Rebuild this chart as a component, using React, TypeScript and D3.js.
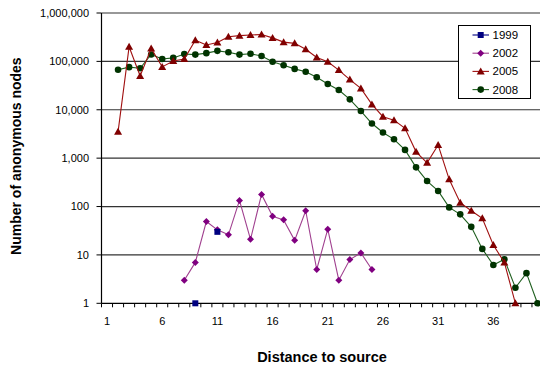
import React from 'react';
import * as d3 from 'd3';

const categories = d3.range(1, 41);
const xLabels = [1, 6, 11, 16, 21, 26, 31, 36];
const yTicks = [1, 10, 100, 1000, 10000, 100000, 1000000];

const s1999 = [null, null, null, null, null, null, null, null, 1, null, 30];
const s2002 = [null, null, null, null, null, null, null, 3, 7, 49, 33, 26, 134, 21, 178, 63, 53, 20, 82, 5, 34, 3, 8, 11, 5];
const s2005 = [null, 3500, 200000, 50000, 185000, 77000, 102000, 112000, 275000, 218000,
  246000, 323000, 340000, 350000, 360000, 306000, 250000, 236000, 178000, 120000,
  98000, 66000, 42000, 27600, 12900, 7200, 6100, 4130, 1350, 800,
  1870, 365, 120, 82, 57, 16, 7, 1];
const s2008 = [null, 67000, 76000, 72000, 139000, 112000, 118000, 142000, 138000, 148000,
  165000, 154000, 138000, 144000, 129000, 98000, 83000, 70000, 61000, 47000,
  34000, 25600, 16400, 9400, 5200, 3400, 2450, 1480, 645, 336,
  210, 96, 69, 38, 13.3, 6.2, 8.1, 2.1, 4.2, 1];

const series = [
  { name: '1999', values: s1999, line: '#000080', fill: '#000080', marker: 'square' },
  { name: '2002', values: s2002, line: '#A0408F', fill: '#800080', marker: 'diamond' },
  { name: '2005', values: s2005, line: '#A01010', fill: '#800000', marker: 'triangle' },
  { name: '2008', values: s2008, line: '#1F5F1F', fill: '#003300', marker: 'circle' },
];

const font = 'Liberation Sans, Arial, sans-serif';

function Marker({ type, x, y, color }) {
  if (type === 'square') return <rect x={x - 3} y={y - 3} width={6} height={6} fill={color} />;
  if (type === 'triangle') return <path d={`M${x},${y - 4}L${x + 4},${y + 3}L${x - 4},${y + 3}Z`} fill={color} />;
  if (type === 'diamond') return <path d={`M${x},${y - 3.5}L${x + 3.5},${y}L${x},${y + 3.5}L${x - 3.5},${y}Z`} fill={color} />;
  return <circle cx={x} cy={y} r={3.3} fill={color} />;
}

export default function App() {
  const width = 540;
  const height = 365;
  const left = 101.5;
  const right = 543;
  const top = 13;
  const bottom = 303.3;

  const x = d3.scaleLinear().domain([0.5, 40.5]).range([left, right]);
  const y = d3.scaleLog().domain([1, 1e6]).range([bottom, top]);
  const fmt = d3.format(',');

  const line = d3.line<any>()
    .defined((d) => d != null)
    .x((_, i) => x(categories[i]))
    .y((d) => y(d));

  const boundaries = d3.range(0.5, 41, 1);

  return (
    <svg width={width} height={height} style={{ position: 'absolute', left: 0, top: 0, background: '#fff' }}>
      <rect width={width} height={height} fill="#fff" />
      {/* gridlines */}
      {yTicks.slice(1).map((t) => (
        <line key={t} x1={left} x2={right} y1={y(t)} y2={y(t)} stroke="#333" strokeWidth={1.2} />
      ))}
      {/* y axis */}
      <line x1={left} x2={left} y1={top} y2={bottom} stroke="#000" strokeWidth={1.2} />
      {yTicks.map((t) => (
        <g key={t}>
          <line x1={left - 5} x2={left} y1={y(t)} y2={y(t)} stroke="#000" />
          <text x={89} y={y(t)} dy="0.35em" textAnchor="end" fontFamily={font} fontSize={11}>{fmt(t)}</text>
        </g>
      ))}
      {/* x axis */}
      <line x1={left} x2={right} y1={bottom} y2={bottom} stroke="#000" strokeWidth={1.2} />
      {boundaries.map((b) => (
        <line key={b} x1={x(b)} x2={x(b)} y1={bottom} y2={bottom + 4} stroke="#000" />
      ))}
      {xLabels.map((c) => (
        <text key={c} x={x(c)} y={325} textAnchor="middle" fontFamily={font} fontSize={11}>{c}</text>
      ))}
      {/* series, drawn last-to-first so 1999 sits on top */}
      {series.slice().reverse().map((s) => (
        <g key={s.name}>
          <path d={line(s.values) || ''} fill="none" stroke={s.line} strokeWidth={1.1} />
          {s.values.map((v, i) => v == null ? null : (
            <Marker key={i} type={s.marker} x={x(categories[i])} y={y(v)} color={s.fill} />
          ))}
        </g>
      ))}
      {/* legend */}
      <rect x={458.5} y={25.5} width={72} height={73} fill="#fff" stroke="#000" strokeWidth={1} />
      {series.map((s, i) => {
        const ly = 35 + i * 18.2;
        return (
          <g key={s.name}>
            <line x1={472.5} x2={489} y1={ly} y2={ly} stroke={s.line} strokeWidth={1.1} />
            <Marker type={s.marker} x={480.7} y={ly} color={s.fill} />
            <text x={492.5} y={ly} dy="0.35em" fontFamily={font} fontSize={11.5}>{s.name}</text>
          </g>
        );
      })}
      {/* titles */}
      <text x={322} y={362} textAnchor="middle" fontFamily={font} fontSize={14.5} fontWeight="bold">Distance to source</text>
      <text transform={`translate(21,${(top + bottom) / 2 - 2}) rotate(-90)`} textAnchor="middle" fontFamily={font} fontSize={14} fontWeight="bold">Number of anonymous nodes</text>
    </svg>
  );
}
